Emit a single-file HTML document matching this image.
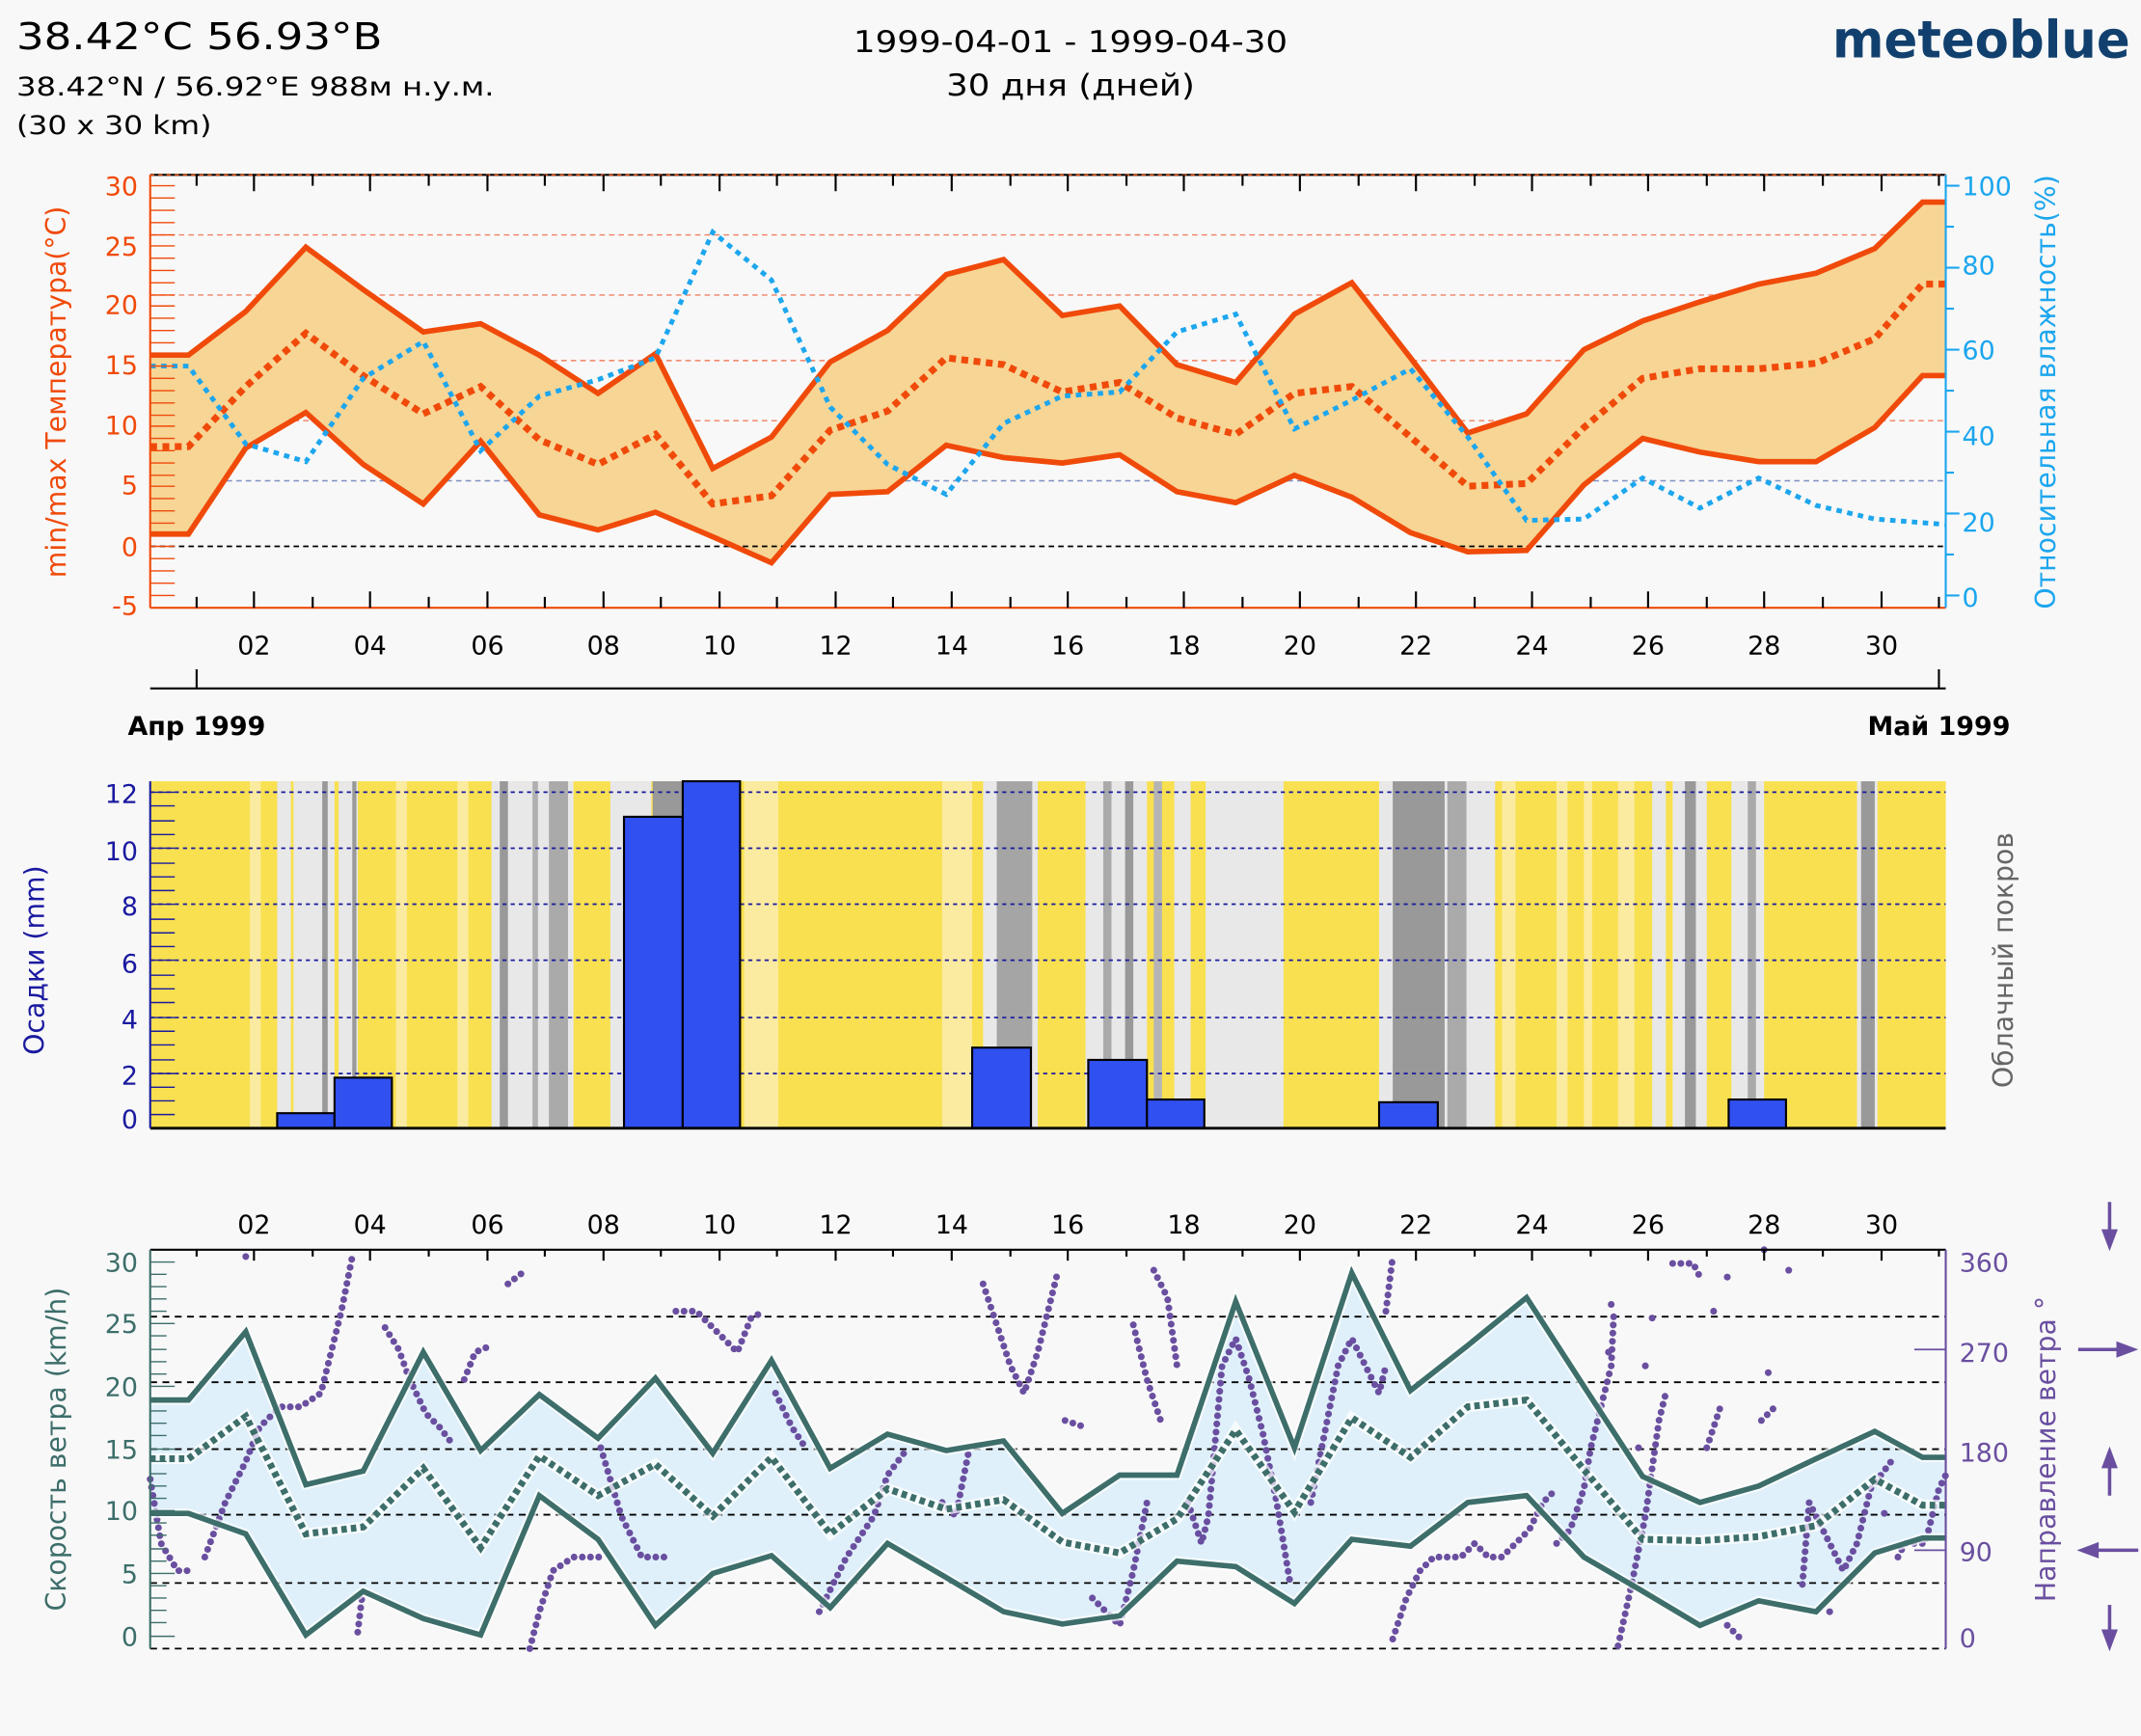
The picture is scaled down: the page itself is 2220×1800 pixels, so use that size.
<!DOCTYPE html>
<html><head><meta charset="utf-8"><style>
html,body{margin:0;padding:0;background:#f8f8f8}
svg{display:block}
text{font-family:"DejaVu Sans","Liberation Sans",sans-serif}
</style></head><body>
<svg width="2220" height="1800" viewBox="0 0 1568 1271" preserveAspectRatio="none" xmlns="http://www.w3.org/2000/svg">
<rect width="1568" height="1271" fill="#f8f8f8"/>
<!-- header -->
<text x="12" y="36" font-size="27" fill="#000" textLength="268" lengthAdjust="spacingAndGlyphs">38.42°C 56.93°B</text>
<text x="12" y="70" font-size="19" fill="#000" textLength="350" lengthAdjust="spacingAndGlyphs">38.42°N / 56.92°E   988м н.у.м.</text>
<text x="12" y="98" font-size="19" fill="#000" textLength="143" lengthAdjust="spacingAndGlyphs">(30 x 30 km)</text>
<text x="784" y="38" font-size="22" text-anchor="middle" textLength="318" lengthAdjust="spacingAndGlyphs">1999-04-01 - 1999-04-30</text>
<text x="784" y="70" font-size="22" text-anchor="middle" textLength="182" lengthAdjust="spacingAndGlyphs">30 дня (дней)</text>
<text x="1560" y="42" font-size="38" font-weight="bold" fill="#12406e" text-anchor="end" font-family="Liberation Sans,sans-serif" textLength="218" lengthAdjust="spacingAndGlyphs">meteoblue</text>

<!-- ===== TOP CHART ===== -->
<g>
<line x1="110" y1="172" x2="1425" y2="172" stroke="#f08060" stroke-width="1" stroke-dasharray="4,3"/>
<line x1="110" y1="216" x2="1425" y2="216" stroke="#f08060" stroke-width="1" stroke-dasharray="4,3"/>
<line x1="110" y1="264" x2="1425" y2="264" stroke="#f08060" stroke-width="1" stroke-dasharray="4,3"/>
<line x1="110" y1="308" x2="1425" y2="308" stroke="#f08060" stroke-width="1" stroke-dasharray="4,3"/>
<line x1="110" y1="352" x2="1425" y2="352" stroke="#8090c0" stroke-width="1" stroke-dasharray="4,3"/>
<polygon fill="#f7d595" points="110,260 138,260 180,228 224,181 266,212 310,243 352,237 395,260 438,288 480,259 522,343 565,320 608,265 650,242 693,201 735,190 778,231 820,224 862,267 905,280 948,230 990,207 1033,262 1075,317 1118,303 1160,256 1203,235 1245,221 1288,208 1330,200 1373,182 1408,148 1425,148 1425,275 1408,275 1373,313 1330,338 1288,338 1245,331 1203,321 1160,355 1118,403 1075,404 1033,390 990,364 948,348 905,368 862,360 820,333 778,339 735,335 693,326 650,360 608,362 565,412 522,393 480,375 438,388 395,377 352,323 310,369 266,340 224,302 180,328 138,391 110,391"/>
<line x1="110" y1="400" x2="1425" y2="400" stroke="#000" stroke-width="1.3" stroke-dasharray="4,3"/>
<polyline fill="none" stroke="#f04a0a" stroke-width="4" points="110,260 138,260 180,228 224,181 266,212 310,243 352,237 395,260 438,288 480,259 522,343 565,320 608,265 650,242 693,201 735,190 778,231 820,224 862,267 905,280 948,230 990,207 1033,262 1075,317 1118,303 1160,256 1203,235 1245,221 1288,208 1330,200 1373,182 1408,148 1425,148"/>
<polyline fill="none" stroke="#f04a0a" stroke-width="4" points="110,391 138,391 180,328 224,302 266,340 310,369 352,323 395,377 438,388 480,375 522,393 565,412 608,362 650,360 693,326 735,335 778,339 820,333 862,360 905,368 948,348 990,364 1033,390 1075,404 1118,403 1160,355 1203,321 1245,331 1288,338 1330,338 1373,313 1408,275 1425,275"/>
<polyline fill="none" stroke="#f04a0a" stroke-width="5" stroke-dasharray="5,4" points="110,327 138,327 180,283 224,244 266,275 310,303 352,283 395,322 438,340 480,318 522,369 565,363 608,315 650,301 693,262 735,267 778,287 820,280 862,306 905,318 948,288 990,283 1033,320 1075,356 1118,354 1160,313 1203,277 1245,270 1288,270 1330,266 1373,248 1408,208 1425,208"/>
<polyline fill="none" stroke="#1ca6ee" stroke-width="3.5" stroke-dasharray="4,4" points="110,268 138,268 180,325 224,338 266,277 310,250 352,330 395,290 438,278 480,262 522,170 565,205 608,298 650,340 693,362 735,310 778,290 820,287 862,243 905,230 948,314 990,293 1033,270 1075,320 1118,381 1160,380 1203,350 1245,372 1288,350 1330,370 1373,380 1425,384"/>
<line x1="110" y1="128" x2="1425" y2="128" stroke="#000" stroke-width="1.5"/>
<line x1="110" y1="128" x2="1425" y2="128" stroke="#f04a0a" stroke-width="1" stroke-dasharray="3,3"/>
<line x1="110" y1="445" x2="1425" y2="445" stroke="#f04a0a" stroke-width="1.5"/>
<line x1="110" y1="128" x2="110" y2="445" stroke="#f04a0a" stroke-width="1.5"/>
<line x1="1425" y1="128" x2="1425" y2="445" stroke="#1ca6ee" stroke-width="1.5"/>
<g stroke="#f04a0a" stroke-width="1">
<path d="M110 136h18M110 145h18M110 154h18M110 163h18M110 172h18M110 180h18M110 189h18M110 198h18M110 207h18M110 216h18M110 224h18M110 233h18M110 242h18M110 251h18M110 260h18M110 268h18M110 277h18M110 286h18M110 295h18M110 304h18M110 312h18M110 321h18M110 330h18M110 339h18M110 348h18M110 356h18M110 365h18M110 374h18M110 383h18M110 392h18M110 400h18M110 409h18M110 418h18M110 427h18M110 436h18"/>
</g>
<g stroke="#1ca6ee" stroke-width="1.5">
<path d="M1425 136h10M1425 166h6M1425 196h10M1425 226h6M1425 256h10M1425 286h6M1425 316h10M1425 346h6M1425 376h10M1425 406h6M1425 436h10"/>
</g>
<g stroke="#000" stroke-width="1.5">
<path d="M144 128v8M186 128v12M229 128v8M271 128v12M314 128v8M357 128v12M399 128v8M442 128v12M484 128v8M527 128v12M569 128v8M612 128v12M654 128v8M697 128v12M740 128v8M782 128v12M825 128v8M867 128v12M910 128v8M952 128v12M995 128v8M1037 128v12M1080 128v8M1122 128v12M1165 128v8M1207 128v12M1250 128v8M1292 128v12M1335 128v8M1378 128v12M1420 128v8"/>
<path d="M144 445v-8M186 445v-12M229 445v-8M271 445v-12M314 445v-8M357 445v-12M399 445v-8M442 445v-12M484 445v-8M527 445v-12M569 445v-8M612 445v-12M654 445v-8M697 445v-12M740 445v-8M782 445v-12M825 445v-8M867 445v-12M910 445v-8M952 445v-12M995 445v-8M1037 445v-12M1080 445v-8M1122 445v-12M1165 445v-8M1207 445v-12M1250 445v-8M1292 445v-12M1335 445v-8M1378 445v-12M1420 445v-8"/>
</g>
<g font-size="19" fill="#f04a0a" text-anchor="end">
<text x="101" y="143">30</text><text x="101" y="187">25</text><text x="101" y="230">20</text><text x="101" y="274">15</text><text x="101" y="318">10</text><text x="101" y="362">5</text><text x="101" y="407">0</text><text x="101" y="450">-5</text>
</g>
<g font-size="19" fill="#1ca6ee">
<text x="1437" y="143">100</text><text x="1437" y="201">80</text><text x="1437" y="263">60</text><text x="1437" y="326">40</text><text x="1437" y="389">20</text><text x="1437" y="444">0</text>
</g>
<text transform="translate(48,287) rotate(-90)" font-size="20" fill="#f04a0a" text-anchor="middle">min/max Температура(°C)</text>
<text transform="translate(1505,287) rotate(-90)" font-size="20" fill="#1ca6ee" text-anchor="middle">Относительная влажность(%)</text>
<g font-size="19" text-anchor="middle">
<text x="186" y="479">02</text><text x="271" y="479">04</text><text x="357" y="479">06</text><text x="442" y="479">08</text><text x="527" y="479">10</text><text x="612" y="479">12</text><text x="697" y="479">14</text><text x="782" y="479">16</text><text x="867" y="479">18</text><text x="952" y="479">20</text><text x="1037" y="479">22</text><text x="1122" y="479">24</text><text x="1207" y="479">26</text><text x="1292" y="479">28</text><text x="1378" y="479">30</text>
</g>
<line x1="110" y1="504" x2="1425" y2="504" stroke="#000" stroke-width="1.5"/>
<line x1="144" y1="490" x2="144" y2="504" stroke="#000" stroke-width="1.5"/>
<line x1="1420" y1="490" x2="1420" y2="504" stroke="#000" stroke-width="1.5"/>
<text x="144" y="538" font-size="19" font-weight="bold" text-anchor="middle">Апр 1999</text>
<text x="1420" y="538" font-size="19" font-weight="bold" text-anchor="middle">Май 1999</text>
</g>

<!-- ===== MIDDLE CHART ===== -->
<g>
<rect x="110" y="572" width="1315" height="254" fill="#f8e050"/>
<g fill="#e8e8e8">
<rect x="183" y="572" width="8" height="254" fill="#fbeba0"/>
<rect x="203" y="572" width="10" height="254"/>
<rect x="215" y="572" width="30" height="254"/>
<rect x="248" y="572" width="14" height="254"/>
<rect x="290" y="572" width="8" height="254" fill="#fbeba0"/>
<rect x="335" y="572" width="8" height="254" fill="#fbeba0"/>
<rect x="360" y="572" width="60" height="254"/>
<rect x="447" y="572" width="30" height="254"/>
<rect x="545" y="572" width="25" height="254" fill="#fbeba0"/>
<rect x="690" y="572" width="22" height="254" fill="#fbeba0"/>
<rect x="720" y="572" width="40" height="254"/>
<rect x="795" y="572" width="45" height="254"/>
<rect x="860" y="572" width="12" height="254"/>
<rect x="883" y="572" width="57" height="254"/>
<rect x="1010" y="572" width="85" height="254"/>
<rect x="1100" y="572" width="10" height="254" fill="#fbeba0"/>
<rect x="1140" y="572" width="8" height="254" fill="#fbeba0"/>
<rect x="1160" y="572" width="6" height="254" fill="#fbeba0"/>
<rect x="1185" y="572" width="12" height="254" fill="#fbeba0"/>
<rect x="1210" y="572" width="10" height="254" fill="#e8e8e8"/>
<rect x="1225" y="572" width="25" height="254"/>
<rect x="1268" y="572" width="24" height="254"/>
<rect x="1360" y="572" width="15" height="254"/>
</g>
<g fill="#999">
<rect x="236" y="572" width="4" height="254"/>
<rect x="258" y="572" width="3" height="254"/>
<rect x="366" y="572" width="6" height="254"/>
<rect x="390" y="572" width="4" height="254" fill="#b0b0b0"/>
<rect x="402" y="572" width="14" height="254" fill="#aaa"/>
<rect x="478" y="572" width="22" height="254"/>
<rect x="730" y="572" width="26" height="254" fill="#a5a5a5"/>
<rect x="808" y="572" width="6" height="254" fill="#aaa"/>
<rect x="824" y="572" width="6" height="254"/>
<rect x="845" y="572" width="6" height="254" fill="#b5b5b5"/>
<rect x="1020" y="572" width="38" height="254"/>
<rect x="1060" y="572" width="14" height="254" fill="#aaa"/>
<rect x="1234" y="572" width="8" height="254"/>
<rect x="1280" y="572" width="6" height="254" fill="#aaa"/>
<rect x="1363" y="572" width="10" height="254"/>
</g>
<g stroke="#1a1aa0" stroke-width="1.2" stroke-dasharray="3,3">
<line x1="110" y1="580" x2="1425" y2="580"/><line x1="110" y1="621" x2="1425" y2="621"/><line x1="110" y1="662" x2="1425" y2="662"/><line x1="110" y1="703" x2="1425" y2="703"/><line x1="110" y1="745" x2="1425" y2="745"/><line x1="110" y1="786" x2="1425" y2="786"/>
</g>
<g fill="#3050f0" stroke="#000" stroke-width="1.5">
<rect x="203" y="815" width="42" height="11"/>
<rect x="245" y="789" width="42" height="37"/>
<rect x="457" y="598" width="43" height="228"/>
<rect x="500" y="572" width="42" height="254"/>
<rect x="712" y="767" width="43" height="59"/>
<rect x="797" y="776" width="43" height="50"/>
<rect x="840" y="805" width="42" height="21"/>
<rect x="1010" y="807" width="43" height="19"/>
<rect x="1266" y="805" width="42" height="21"/>
</g>
<line x1="110" y1="826" x2="1425" y2="826" stroke="#000" stroke-width="2"/>
<line x1="110" y1="572" x2="110" y2="826" stroke="#1a1aa0" stroke-width="1.5"/>
<g stroke="#1a1aa0" stroke-width="1"><path d="M110 580h18M110 590h18M110 601h18M110 611h18M110 621h18M110 632h18M110 642h18M110 652h18M110 662h18M110 673h18M110 683h18M110 693h18M110 703h18M110 714h18M110 724h18M110 734h18M110 745h18M110 755h18M110 765h18M110 776h18M110 786h18M110 796h18M110 806h18M110 816h18"/></g>
<g font-size="19" fill="#1a1aa0" text-anchor="end">
<text x="101" y="588">12</text><text x="101" y="630">10</text><text x="101" y="670">8</text><text x="101" y="712">6</text><text x="101" y="753">4</text><text x="101" y="794">2</text><text x="101" y="826">0</text>
</g>
<text transform="translate(32,703) rotate(-90)" font-size="20" fill="#1a1aa0" text-anchor="middle">Осадки (mm)</text>
<text transform="translate(1474,703) rotate(-90)" font-size="20" fill="#666" text-anchor="middle">Облачный покров</text>
</g>

<!-- ===== BOTTOM CHART ===== -->
<g>
<g font-size="19" text-anchor="middle">
<text x="186" y="903">02</text><text x="271" y="903">04</text><text x="357" y="903">06</text><text x="442" y="903">08</text><text x="527" y="903">10</text><text x="612" y="903">12</text><text x="697" y="903">14</text><text x="782" y="903">16</text><text x="867" y="903">18</text><text x="952" y="903">20</text><text x="1037" y="903">22</text><text x="1122" y="903">24</text><text x="1207" y="903">26</text><text x="1292" y="903">28</text><text x="1378" y="903">30</text>
</g>
<polygon fill="#dff0fa" points="110,1025 138,1025 180,975 224,1087 266,1077 310,990 352,1062 395,1021 438,1053 480,1009 522,1064 565,996 608,1075 650,1050 693,1062 735,1055 778,1108 820,1080 862,1080 905,953 948,1060 990,932 1033,1018 1075,985 1118,950 1160,1015 1203,1081 1245,1100 1288,1088 1330,1068 1373,1048 1408,1067 1425,1067 1425,1126 1408,1126 1373,1137 1330,1180 1288,1172 1245,1190 1203,1165 1160,1140 1118,1095 1075,1100 1033,1132 990,1127 948,1174 905,1147 862,1143 820,1183 778,1189 735,1180 693,1155 650,1130 608,1177 565,1139 522,1152 480,1190 438,1127 395,1095 352,1197 310,1185 266,1165 224,1197 180,1123 138,1108 110,1108"/>
<g stroke="#000" stroke-width="1.3" stroke-dasharray="5,4">
<line x1="110" y1="964" x2="1425" y2="964"/><line x1="110" y1="1012" x2="1425" y2="1012"/><line x1="110" y1="1061" x2="1425" y2="1061"/><line x1="110" y1="1109" x2="1425" y2="1109"/><line x1="110" y1="1159" x2="1425" y2="1159"/><line x1="110" y1="1207" x2="1425" y2="1207"/>
</g>
<g fill="none" stroke="#6a4fa0" stroke-width="5" stroke-linecap="round" stroke-linejoin="round" stroke-dasharray="0 6">
<polyline points="110,1083 118,1130 130,1150 138,1150"/>
<polyline points="150,1140 165,1100 180,1070 190,1045 205,1030 220,1030 235,1020 240,1000 250,960 258,920"/>
<polyline points="262,1195 265,1170"/>
<polyline points="282,972 292,988 300,1010 312,1035 322,1045 332,1058"/>
<polyline points="340,1010 348,990 360,985"/>
<polyline points="372,940 385,930"/>
<polyline points="388,1207 395,1180 405,1150 420,1140 440,1140"/>
<polyline points="440,1060 455,1110 470,1140 488,1140"/>
<polyline points="495,960 510,960 525,975 540,990 550,965 560,960"/>
<polyline points="568,1020 580,1045 590,1060"/>
<polyline points="600,1180 620,1140 640,1110 650,1080 665,1060"/>
<polyline points="690,1100 700,1110 710,1060"/>
<polyline points="720,940 730,970 740,1000 750,1020 760,990 770,950 775,930"/>
<polyline points="780,1040 795,1045"/>
<polyline points="800,1170 820,1190 830,1150 840,1100"/>
<polyline points="830,970 835,990 840,1010 850,1040"/>
<polyline points="845,930 855,950 862,1000"/>
<polyline points="870,1100 880,1130 885,1110 895,1000 905,980 915,1010 925,1050 935,1100 945,1160"/>
<polyline points="960,1100 980,1000 990,980 1000,1000 1010,1020 1015,1000"/>
<polyline points="1015,960 1020,920"/>
<polyline points="1020,1200 1030,1170 1040,1150 1050,1140 1070,1140 1080,1130 1090,1140 1100,1140 1110,1130 1120,1120 1130,1100 1140,1090"/>
<polyline points="1140,1130 1150,1120 1160,1090 1165,1060 1175,1020 1180,1000 1182,960"/>
<polyline points="1185,1205 1195,1160 1205,1110 1215,1040 1220,1020"/>
<polyline points="1225,925 1240,925 1245,935"/>
<polyline points="1250,1060 1260,1030"/>
<polyline points="1265,1190 1275,1200"/>
<polyline points="1290,1040 1300,1030"/>
<polyline points="1320,1160 1325,1100 1340,1130 1350,1150 1360,1130 1370,1090 1385,1070"/>
<polyline points="1390,1140 1395,1130 1410,1130 1420,1090 1425,1080"/>
</g>
<g fill="#6a4fa0">
<circle cx="1180" cy="955" r="2.5"/><circle cx="1178" cy="990" r="2.5"/><circle cx="1210" cy="965" r="2.5"/><circle cx="1255" cy="960" r="2.5"/><circle cx="1292" cy="915" r="2.5"/><circle cx="1265" cy="935" r="2.5"/><circle cx="1310" cy="930" r="2.5"/><circle cx="1295" cy="1005" r="2.5"/><circle cx="1205" cy="1000" r="2.5"/><circle cx="1200" cy="1060" r="2.5"/><circle cx="1340" cy="1180" r="2.5"/><circle cx="180" cy="920" r="2.5"/><circle cx="1380" cy="1108" r="2.5"/>
</g>
<polyline fill="none" stroke="#fff" stroke-width="7" opacity="0.7" points="110,1025 138,1025 180,975 224,1087 266,1077 310,990 352,1062 395,1021 438,1053 480,1009 522,1064 565,996 608,1075 650,1050 693,1062 735,1055 778,1108 820,1080 862,1080 905,953 948,1060 990,932 1033,1018 1075,985 1118,950 1160,1015 1203,1081 1245,1100 1288,1088 1330,1068 1373,1048 1408,1067 1425,1067"/>
<polyline fill="none" stroke="#3d6e6a" stroke-width="4" points="110,1025 138,1025 180,975 224,1087 266,1077 310,990 352,1062 395,1021 438,1053 480,1009 522,1064 565,996 608,1075 650,1050 693,1062 735,1055 778,1108 820,1080 862,1080 905,953 948,1060 990,932 1033,1018 1075,985 1118,950 1160,1015 1203,1081 1245,1100 1288,1088 1330,1068 1373,1048 1408,1067 1425,1067"/>
<polyline fill="none" stroke="#fff" stroke-width="7" opacity="0.7" points="110,1108 138,1108 180,1123 224,1197 266,1165 310,1185 352,1197 395,1095 438,1127 480,1190 522,1152 565,1139 608,1177 650,1130 693,1155 735,1180 778,1189 820,1183 862,1143 905,1147 948,1174 990,1127 1033,1132 1075,1100 1118,1095 1160,1140 1203,1165 1245,1190 1288,1172 1330,1180 1373,1137 1408,1126 1425,1126"/>
<polyline fill="none" stroke="#3d6e6a" stroke-width="4" points="110,1108 138,1108 180,1123 224,1197 266,1165 310,1185 352,1197 395,1095 438,1127 480,1190 522,1152 565,1139 608,1177 650,1130 693,1155 735,1180 778,1189 820,1183 862,1143 905,1147 948,1174 990,1127 1033,1132 1075,1100 1118,1095 1160,1140 1203,1165 1245,1190 1288,1172 1330,1180 1373,1137 1408,1126 1425,1126"/>
<polyline fill="none" stroke="#fff" stroke-width="8" opacity="0.7" points="110,1068 138,1068 180,1037 224,1123 266,1118 310,1075 352,1133 395,1066 438,1095 480,1072 522,1110 565,1067 608,1123 650,1090 693,1105 735,1098 778,1129 820,1137 862,1112 905,1047 948,1107 990,1038 1033,1067 1075,1030 1118,1025 1160,1076 1203,1127 1245,1128 1288,1125 1330,1117 1373,1083 1408,1102 1425,1102"/>
<polyline fill="none" stroke="#3d6e6a" stroke-width="5" stroke-dasharray="4,3" points="110,1068 138,1068 180,1037 224,1123 266,1118 310,1075 352,1133 395,1066 438,1095 480,1072 522,1110 565,1067 608,1123 650,1090 693,1105 735,1098 778,1129 820,1137 862,1112 905,1047 948,1107 990,1038 1033,1067 1075,1030 1118,1025 1160,1076 1203,1127 1245,1128 1288,1125 1330,1117 1373,1083 1408,1102 1425,1102"/>
<line x1="110" y1="915" x2="1425" y2="915" stroke="#000" stroke-width="1.5"/>
<g stroke="#000" stroke-width="1.5">
<path d="M144 915v5M186 915v8M229 915v5M271 915v8M314 915v5M357 915v8M399 915v5M442 915v8M484 915v5M527 915v8M569 915v5M612 915v8M654 915v5M697 915v8M740 915v5M782 915v8M825 915v5M867 915v8M910 915v5M952 915v8M995 915v5M1037 915v8M1080 915v5M1122 915v8M1165 915v5M1207 915v8M1250 915v5M1292 915v8M1335 915v5M1378 915v8M1420 915v5"/>
</g>
<line x1="110" y1="915" x2="110" y2="1207" stroke="#3d6e6a" stroke-width="1.5"/>
<g stroke="#3d6e6a" stroke-width="1"><path d="M110 924h18M110 933h12M110 942h12M110 951h12M110 960h12M110 969h18M110 978h12M110 988h12M110 997h12M110 1006h12M110 1015h18M110 1024h12M110 1033h12M110 1042h12M110 1051h12M110 1061h18M110 1070h12M110 1079h12M110 1088h12M110 1097h12M110 1106h18M110 1115h12M110 1124h12M110 1134h12M110 1143h12M110 1152h18M110 1161h12M110 1170h12M110 1179h12M110 1188h12M110 1198h18"/></g>
<g font-size="19" fill="#3d6e6a" text-anchor="end">
<text x="101" y="931">30</text><text x="101" y="976">25</text><text x="101" y="1022">20</text><text x="101" y="1068">15</text><text x="101" y="1113">10</text><text x="101" y="1159">5</text><text x="101" y="1205">0</text>
</g>
<text transform="translate(48,1061) rotate(-90)" font-size="20" fill="#3d6e6a" text-anchor="middle">Скорость ветра (km/h)</text>
<line x1="1425" y1="915" x2="1425" y2="1207" stroke="#6a4fa0" stroke-width="1.5"/>
<g stroke="#6a4fa0" stroke-width="1.2"><path d="M1402 988h23M1402 1135h23"/></g>
<g font-size="19" fill="#6a4fa0">
<text x="1435" y="931">360</text><text x="1435" y="997">270</text><text x="1435" y="1070">180</text><text x="1435" y="1143">90</text><text x="1435" y="1206">0</text>
</g>
<text transform="translate(1505,1061) rotate(-90)" font-size="20" fill="#6a4fa0" text-anchor="middle">Направление ветра °</text>
<g stroke="#6a4fa0" stroke-width="2.5" fill="#6a4fa0">
<line x1="1545" y1="880" x2="1545" y2="905"/><polygon points="1539,900 1551,900 1545,916" stroke="none"/>
<line x1="1522" y1="988" x2="1555" y2="988"/><polygon points="1550,982 1550,994 1566,988" stroke="none"/>
<line x1="1545" y1="1095" x2="1545" y2="1070"/><polygon points="1539,1075 1551,1075 1545,1059" stroke="none"/>
<line x1="1566" y1="1135" x2="1532" y2="1135"/><polygon points="1537,1129 1537,1141 1521,1135" stroke="none"/>
<line x1="1545" y1="1175" x2="1545" y2="1198"/><polygon points="1539,1193 1551,1193 1545,1209" stroke="none"/>
</g>
</g>
</svg>
</body></html>
